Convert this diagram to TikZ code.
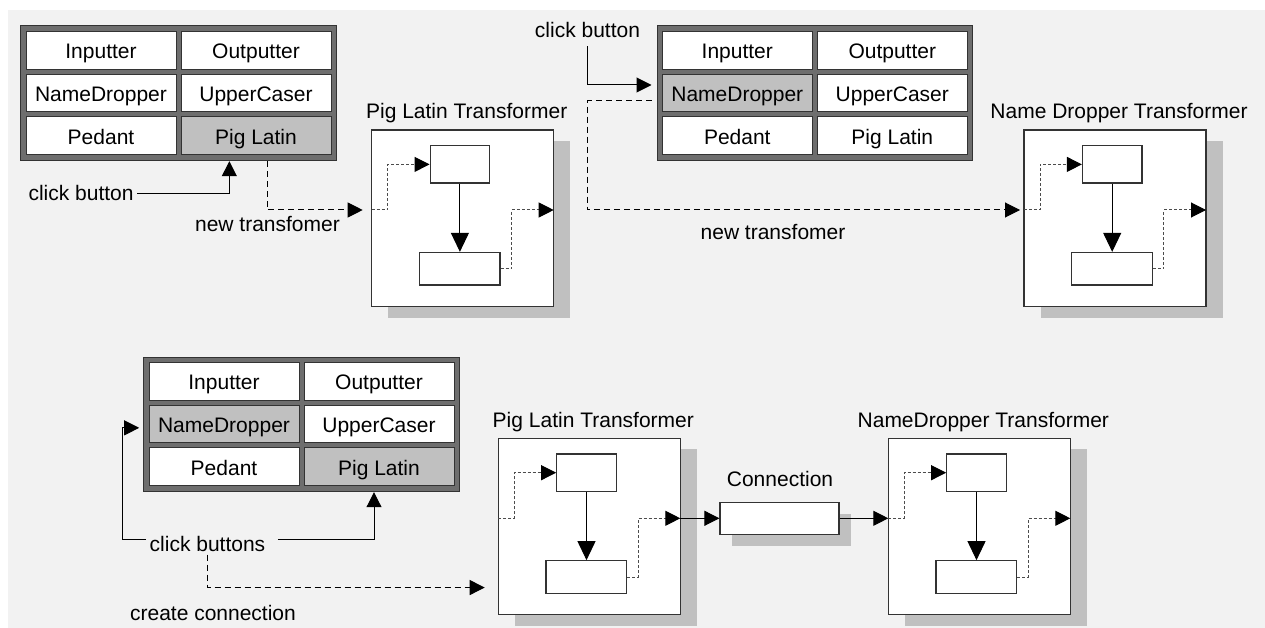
\documentclass[tikz,border=0pt]{standalone}
\usepackage{fontspec}
\setmainfont{Liberation Sans}
\usetikzlibrary{arrows.meta}
\definecolor{bggray}{HTML}{F2F2F2}
\definecolor{framegray}{HTML}{6E6E6E}
\definecolor{shadegray}{HTML}{C0C0C0}
\definecolor{edge}{HTML}{333333}

\begin{document}
\begin{tikzpicture}[x=1pt,y=-1pt,font=\fontsize{21}{25}\selectfont,
  >={Triangle[length=15pt,width=15pt,color=black]},
  cell/.style={draw=edge,line width=1pt,minimum width=150pt,minimum height=37.7pt,
    inner sep=0pt,text height=17pt,text depth=0pt},
  panel/.style={draw=edge,fill=framegray,line width=1pt,minimum width=315.3pt,
    minimum height=134.7pt,inner sep=0pt},
  tbox/.style={draw=edge,fill=white,line width=1.2pt,inner sep=0pt},
  link/.style={black,line width=1pt},
  jump/.style={black,line width=1pt,dash pattern=on 6pt off 4pt},
  wire/.style={black!70,line width=1pt,dash pattern=on 3pt off 2pt}]
  \useasboundingbox (0,0) rectangle (1265,628);
  \fill[bggray] (8,10) rectangle (1265,628);

  \foreach \p/\x/\y/\fa/\fb in {p1/26/31.7/white/shadegray,
      p2/662.3/31.7/shadegray/white, p3/149/362.7/shadegray/shadegray}{
    \node[panel] (\p) at (\x+152.35,\y+61.65) {};
    \node[cell,fill=white] (\p-in) at (\x+75,\y+18.7) {Inputter};
    \node[cell,fill=white] (\p-out) at (\x+230,\y+18.7) {Outputter};
    \node[cell,fill=\fa] (\p-nd) at (\x+75,\y+61.4) {NameDropper};
    \node[cell,fill=white] (\p-uc) at (\x+230,\y+61.4) {UpperCaser};
    \node[cell,fill=white] (\p-ped) at (\x+75,\y+104.1) {Pedant};
    \node[cell,fill=\fb] (\p-pl) at (\x+230,\y+104.1) {Pig Latin};
  }

  \foreach \tf/\x/\y/\ttl in {t1/371.7/130/Pig Latin Transformer,
      t2/1024/130/Name Dropper Transformer,
      t3/498.3/438.3/Pig Latin Transformer,
      t4/888.3/438.3/NameDropper Transformer}{
    \fill[shadegray] (\x+16.7,\y+11) rectangle ++(182,176.5);
    \node[tbox,minimum width=182pt,minimum height=176.5pt] (\tf) at (\x+91,\y+88.25) {};
    \node[anchor=base] (\tf-title) at (\x+95,\y-11) {\ttl};
    \node[tbox,minimum width=59.5pt,minimum height=37.3pt] (\tf-top) at (\x+88.2,\y+34.4) {};
    \node[tbox,minimum width=80.7pt,minimum height=32.5pt] (\tf-bot) at (\x+88,\y+138.7) {};
    \coordinate (\tf-in) at (\x,\y+80);
    \coordinate (\tf-out) at (\x+182,\y+80);
    \draw[link,-{Triangle[length=19pt,width=18pt]}] (\tf-top.south) -- (\tf-top.south |- \tf-bot.north);
    \draw[wire,->] (\tf-in) -- ++(16,0) |- (\tf-top.west);
    \draw[wire,->] (\tf-bot.east) -- ++(11,0) |- (\tf-out);
  }

  \fill[shadegray] (731.5,513.5) rectangle ++(119,32);
  \node[tbox,minimum width=119pt,minimum height=32pt] (conn) at (779.5,518.3) {};
  \node[anchor=base] (conn-title) at (780,486) {Connection};
  \draw[link,->] (t3-out) -- (conn);
  \draw[link,->] (conn) -- (t4-in);

  \node[anchor=base west] (click1) at (25,201) {click button};
  \draw[link,->] (click1.east) -| ([xshift=51pt]p1.south);
  \draw[jump,->,shorten >=9pt] ([xshift=88.65pt]p1.south) |- (t1-in);
  \node[anchor=base] (new1) at (267.5,231.7) {new transfomer};

  \node[anchor=base] (click2) at (587.5,37.3) {click button};
  \draw[link,->,shorten <=5pt,shorten >=5pt] (click2.south) |- ([yshift=8.35pt]p2.west);
  \draw[jump,->,shorten <=5pt,shorten >=4pt] ([yshift=-7.3pt]p2.west) -| (click2.south |- t2-in) -- (t2-in);
  \node[anchor=base] (new2) at (773,240) {new transfomer};

  \node[anchor=base] (clicks) at (207.5,551) {click buttons};
  \draw[link,->,shorten >=4pt] ([yshift=4pt]clicks.west) -- ++(-24,0) |- ([yshift=-3.5pt]p3.west);
  \draw[link,->] ([xshift=9pt,yshift=4pt]clicks.east) -| ([xshift=72.65pt]p3.south);
  \draw[jump,->,shorten >=13pt] (clicks.south) |- ([yshift=-61pt]t3.west);
  \node[anchor=base] (create) at (213,620) {create connection};
\end{tikzpicture}
\end{document}
